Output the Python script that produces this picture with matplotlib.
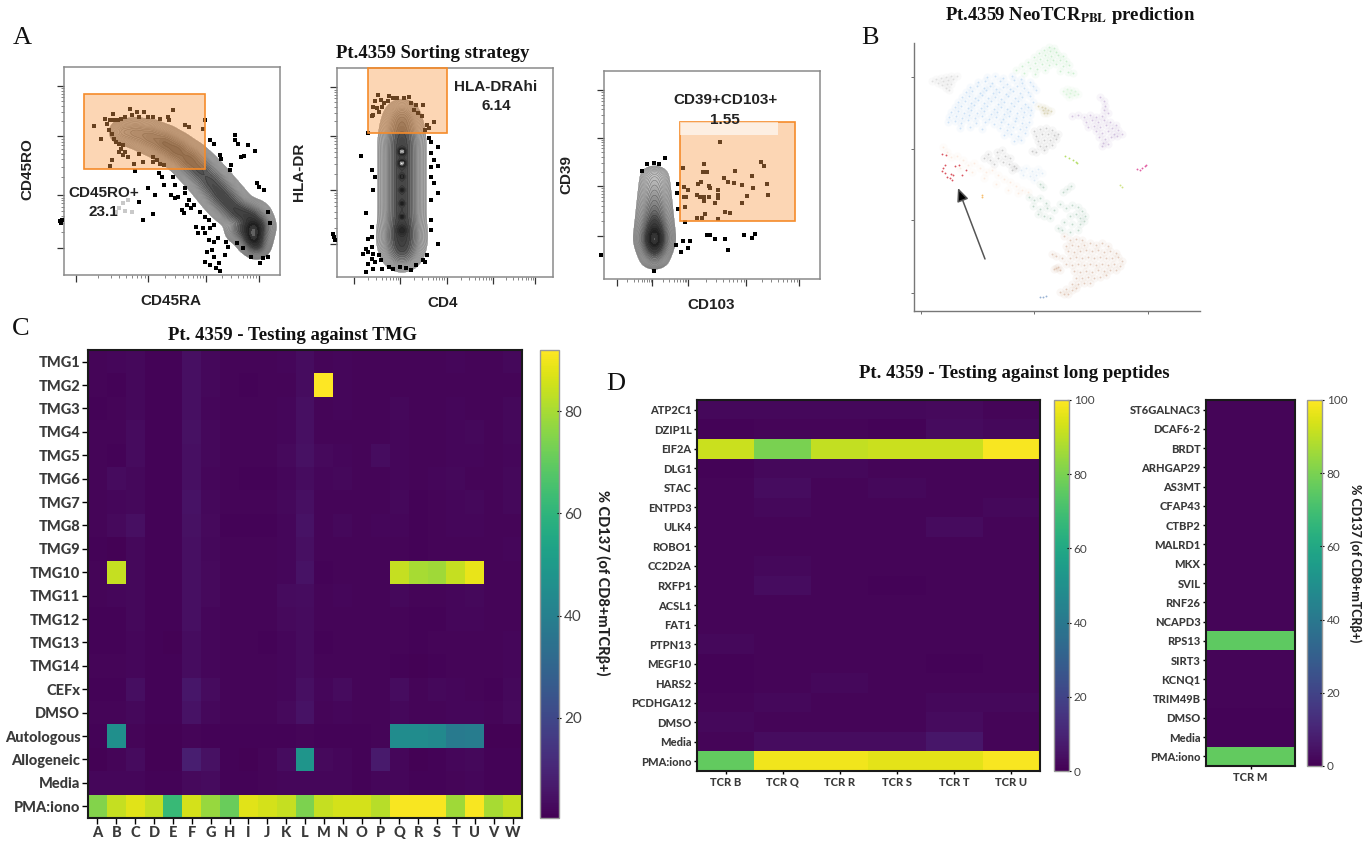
import numpy as np
import matplotlib
matplotlib.use("Agg")
import matplotlib.pyplot as plt
from matplotlib.patches import Rectangle
from matplotlib.colors import LinearSegmentedColormap

W, H = 1365, 844

# ---- C heatmap
tmg_rows = ["TMG1", "TMG2", "TMG3", "TMG4", "TMG5", "TMG6", "TMG7", "TMG8", "TMG9", "TMG10", "TMG11", "TMG12",
            "TMG13", "TMG14", "CEFx", "DMSO", "Autologous", "Allogeneic", "Media", "PMA:iono"]
tmg_cols = list("ABCDEFGHIJKLMNOPQRSTUVW")
tmg_values = [
    [1.5, 2.0, 2.5, 1.2, 1.2, 4.0, 2.2, 1.5, 1.5, 1.5, 2.0, 3.5, 1.5, 2.0, 1.5, 1.8, 1.5, 1.5, 1.5, 2.0, 1.5, 1.5, 2.5],
    [1.5, 1.2, 2.2, 1.2, 1.3, 4.0, 2.2, 1.5, 1.2, 1.5, 1.5, 3.5, 92., 2.0, 1.5, 1.5, 1.5, 1.5, 1.5, 1.5, 1.5, 1.5, 1.8],
    [1.2, 1.5, 2.2, 1.2, 1.2, 4.0, 2.0, 1.5, 1.5, 1.5, 2.0, 4.0, 1.5, 2.0, 1.5, 1.5, 2.5, 1.5, 1.5, 2.0, 1.8, 1.5, 2.5],
    [1.5, 1.5, 3.0, 1.2, 1.3, 4.5, 2.2, 1.5, 1.5, 1.5, 2.0, 4.0, 1.5, 1.5, 1.5, 1.5, 2.0, 1.5, 1.8, 2.0, 2.5, 1.5, 2.5],
    [1.5, 1.3, 3.0, 1.2, 1.3, 4.0, 2.2, 1.5, 1.5, 1.5, 2.8, 4.5, 2.8, 2.0, 1.5, 3.5, 2.0, 1.5, 1.5, 2.0, 2.0, 1.5, 2.0],
    [1.5, 3.0, 2.5, 1.2, 1.3, 4.0, 2.0, 1.5, 1.2, 1.3, 2.0, 3.5, 2.0, 2.5, 1.5, 1.5, 2.0, 1.5, 2.0, 2.5, 1.5, 1.5, 2.5],
    [1.5, 2.0, 2.5, 1.2, 1.3, 5.0, 2.2, 1.5, 1.5, 1.5, 2.5, 4.0, 1.5, 1.5, 1.5, 1.5, 2.5, 1.3, 1.5, 2.0, 2.5, 1.5, 2.5],
    [1.5, 2.8, 4.0, 1.2, 1.3, 4.5, 2.8, 1.3, 1.2, 1.3, 2.0, 4.8, 1.5, 2.5, 1.5, 2.0, 2.0, 1.3, 1.5, 2.0, 2.0, 1.5, 1.5],
    [1.3, 1.0, 2.5, 1.2, 1.3, 4.0, 2.2, 1.5, 1.5, 1.5, 2.0, 4.0, 1.5, 1.5, 1.5, 1.5, 1.5, 1.3, 1.5, 1.5, 1.5, 1.5, 2.0],
    [1.5, 84., 2.2, 1.2, 1.3, 4.0, 2.8, 1.5, 1.5, 1.5, 2.0, 4.8, 1.3, 1.5, 1.5, 1.5, 84., 80., 79., 84., 89., 1.5, 1.5],
    [1.5, 2.0, 2.5, 1.2, 1.3, 4.0, 2.8, 1.5, 1.5, 1.5, 3.0, 3.5, 1.5, 2.0, 1.5, 1.5, 2.5, 1.5, 1.5, 2.0, 2.5, 1.5, 1.5],
    [1.3, 1.3, 2.2, 1.2, 1.3, 4.0, 2.0, 1.5, 1.5, 1.5, 2.8, 3.2, 1.5, 1.5, 1.5, 1.5, 1.5, 1.3, 1.3, 2.0, 2.0, 1.5, 1.5],
    [1.3, 1.3, 2.0, 1.2, 0.9, 3.5, 2.0, 1.5, 1.5, 1.3, 2.0, 3.2, 1.3, 1.5, 1.5, 1.5, 1.5, 1.3, 1.5, 1.5, 1.5, 1.5, 2.0],
    [1.5, 1.5, 2.0, 1.3, 1.3, 3.5, 2.0, 1.5, 1.5, 1.5, 2.0, 3.2, 1.5, 1.5, 1.5, 1.5, 1.2, 1.0, 1.3, 1.5, 1.5, 1.5, 2.0],
    [1.2, 1.3, 3.8, 1.3, 1.3, 6.0, 3.0, 1.5, 1.5, 1.5, 2.0, 4.0, 2.0, 3.0, 1.5, 1.5, 3.5, 1.5, 2.2, 2.0, 1.5, 1.2, 2.5],
    [1.5, 1.5, 2.5, 1.3, 1.3, 5.0, 2.2, 1.5, 1.5, 1.5, 2.8, 4.8, 1.5, 2.0, 1.5, 1.5, 2.5, 1.5, 1.5, 2.0, 2.0, 1.5, 2.8],
    [1.3, 46., 1.5, 1.0, 1.0, 1.5, 1.3, 1.3, 1.3, 1.3, 1.3, 1.5, 1.3, 1.3, 1.3, 1.5, 45., 45., 44., 38., 39., 1.0, 1.0],
    [1.0, 1.5, 3.0, 1.0, 1.0, 8.0, 4.5, 1.3, 1.0, 1.5, 3.5, 48., 2.8, 2.0, 1.3, 7.0, 2.0, 1.0, 1.3, 2.0, 2.5, 1.3, 1.3],
    [2.0, 2.0, 2.0, 1.3, 1.3, 2.8, 3.2, 1.3, 1.3, 1.5, 2.0, 2.0, 2.0, 2.0, 1.3, 2.0, 2.0, 1.3, 1.3, 1.5, 2.0, 1.3, 1.3],
    [75., 84., 88., 84., 62., 86., 78., 71., 88., 86., 84., 74., 84., 86., 86., 82., 91., 91., 91., 79., 91., 80., 84.],
]

# ---- D heatmaps
pep_rows = ["ATP2C1", "DZIP1L", "EIF2A", "DLG1", "STAC", "ENTPD3", "ULK4", "ROBO1", "CC2D2A", "RXFP1", "ACSL1",
            "FAT1", "PTPN13", "MEGF10", "HARS2", "PCDHGA12", "DMSO", "Media", "PMA:iono"]
pep_cols = ["TCR B", "TCR Q", "TCR R", "TCR S", "TCR T", "TCR U"]
pep_values = [
    [2.2, 2.0, 2.0, 2.0, 2.5, 1.5],
    [1.0, 1.5, 1.5, 0.8, 3.0, 2.0],
    [92., 80., 91., 92., 92., 99.],
    [1.0, 2.2, 2.2, 1.2, 1.2, 1.5],
    [1.2, 3.5, 1.2, 2.0, 1.5, 1.5],
    [1.2, 2.0, 1.5, 1.5, 1.5, 2.0],
    [1.2, 1.5, 1.5, 1.5, 3.0, 1.2],
    [1.2, 1.5, 1.5, 1.2, 1.2, 1.5],
    [1.2, 2.2, 1.5, 1.2, 1.5, 1.5],
    [1.2, 3.5, 1.5, 1.0, 1.2, 1.2],
    [1.5, 1.2, 1.2, 1.5, 1.2, 1.2],
    [1.2, 1.5, 1.5, 1.5, 1.2, 1.2],
    [2.2, 1.5, 1.5, 1.5, 1.2, 1.2],
    [0.8, 1.5, 1.2, 1.5, 1.0, 1.5],
    [0.8, 1.5, 2.0, 1.2, 1.5, 1.5],
    [1.2, 2.0, 1.5, 1.2, 2.2, 2.0],
    [2.0, 1.5, 1.5, 1.2, 3.0, 1.5],
    [1.5, 3.5, 3.2, 3.2, 6.0, 1.5],
    [76., 98., 98., 96., 96., 99.],
]
single_rows = ["ST6GALNAC3", "DCAF6-2", "BRDT", "ARHGAP29", "AS3MT", "CFAP43", "CTBP2", "MALRD1", "MKX", "SVIL",
               "RNF26", "NCAPD3", "RPS13", "SIRT3", "KCNQ1", "TRIM49B", "DMSO", "Media", "PMA:iono"]
single_cols = ["TCR M"]
single_values = [[1.5], [1.5], [1.5], [1.5], [1.5], [1.5], [1.5], [1.2], [1.2], [1.2], [1.2], [1.2], [75.],
                 [1.5], [1.5], [1.5], [1.0], [0.8], [76.]]

# ---- flow dots, read in channel units of each plot
cd45_dots = [(265,318),(283,355),(295,295),(300,310),(310,300),(318,280),(320,300),(330,298),(340,295),(350,290),
             (365,265),(370,285),(385,275),(390,290),(405,275),(415,290),(430,290),(450,295),(470,290),(485,270),
             (475,300),(520,315),(530,320),(575,300),(570,325),(305,330),(315,340),(320,355),(325,365),(335,370),
             (345,375),(340,385),(335,395),(350,395),(345,405),(390,400),(360,410),(315,418),(310,438),(375,432),
             (400,425),(430,410),(440,420),(430,425),(450,430),(460,435),(378,452),(445,460),(455,470),(485,470),
             (460,495),(415,505),(435,525),(490,495),(520,505),(520,520),(480,525),(490,535),(500,530),(530,540),
             (525,555),(535,565),(510,570),(515,580),(545,555),(400,600),(430,583),(390,545),(600,370),(590,360),
             (660,345),(660,360),(668,372),(695,375),(715,393),(618,405),(620,415),(675,410),(685,407),(648,435),
             (645,450),(720,490),(725,500),(740,510),(750,575),(758,610),(560,575),(575,590),(585,600),(600,615),
             (590,625),(550,620),(570,625),(575,640),(555,640),(585,660),(600,665),(610,655),(635,665),(640,680),
             (665,670),(680,683),(595,690),(580,695),(600,710),(630,705),(575,725),(590,735),(615,730),(605,745),
             (618,752),(705,712),(730,728),(750,710),(738,715),(168,603),(175,600),(172,610)]
cd45_pale = [(345,550),(360,540),(335,565),(350,572),(370,575),(325,575)]
hla_dots = [(1058,225),(1090,228),(1110,235),(1130,235),(1145,232),(1050,245),(1065,240),(1075,250),(1085,245),
            (1100,235),(1150,250),(1165,255),(1185,255),(1045,262),(1055,265),(1070,262),(1160,270),(1170,280),
            (1045,285),(1060,278),(1180,290),(1215,305),(1195,315),(1190,330),(1200,325),(1040,290),(1030,340),
            (1010,407),(1200,355),(1205,365),(1225,380),(1205,400),(1215,420),(1205,440),(1225,438),(1040,450),
            (1050,470),(1045,510),(1205,470),(1215,490),(1225,520),(1205,540),(1025,580),(1040,620),(1205,600),
            (1205,630),(1040,650),(1030,655),(1225,670),(1025,685),(1040,680),(1015,700),(1030,695),(1045,700),
            (1060,705),(1040,715),(1050,725),(1065,720),(1030,730),(1045,745),(1025,755),(1070,745),(1090,740),
            (1100,745),(1120,740),(1135,742),(1150,750),(1165,735),(1185,720),(1195,705),(1190,725),(935,650),
            (932,640),(938,660)]
cd39_dots = [(258,473),(218,492),(233,488),(245,490),(208,512),(382,425),(345,490),(299,504),(343,516),(352,516),
             (415,512),(473,485),(479,497),(390,533),(452,528),(288,552),(338,545),(332,553),(400,546),(412,548),
             (431,555),(487,552),(302,560),(310,570),(357,558),(360,563),(378,570),(456,565),(285,580),(300,590),
             (305,590),(330,585),(337,590),(345,592),(357,590),(378,585),(376,593),(441,587),(489,585),(345,603),
             (370,610),(430,608),(288,628),(303,620),(393,635),(403,640),(348,643),(330,655),(342,655),(378,656),
             (303,665),(352,706),(358,704),(434,704),(460,702),(454,714),(370,718),(392,718),(298,722),(314,722),
             (283,735),(309,743),(294,755),(400,750),(233,812),(115,765)]

# contour ridges: x, y, spread, weight
cd45_ridge = [(345,335,16,0.6),(380,338,18,0.9),(420,350,20,1.2),(460,368,20,1.5),(495,390,20,1.6),(530,418,21,1.6),
              (560,450,22,1.5),(590,485,22,1.5),(615,518,22,1.5),(640,548,22,1.5),(665,575,20,1.5),(690,585,18,1.0),
              (712,590,20,1.0),(705,625,20,2.6),(712,655,18,3.0),(725,620,18,1.2),(720,680,14,1.2),(670,630,16,0.8)]
hla_ridge = [(1125,285,20,0.5),(1125,310,22,0.7),(1125,340,24,0.9),(1125,370,24,1.0),(1125,400,24,1.0),(1125,430,24,1.0),
             (1125,460,24,1.0),(1125,490,24,1.0),(1125,520,24,1.0),(1125,550,24,1.0),(1125,580,24,1.0),(1125,610,24,1.0),
             (1125,640,25,1.2),(1125,670,25,1.2),(1125,700,22,0.8),(1125,395,6,3.0),(1125,430,6,3.0),(1125,470,4,2.0),
             (1125,510,4,1.6),(1125,550,4,1.6),(1125,590,4,1.6),(1125,630,10,1.0)]
cd39_ridge = [(235,527,15,0.25),(235,552,15,0.35),(235,577,15,0.5),(235,602,15,0.7),(235,627,15,1.0),(235,652,15,1.4),
              (235,677,15,2.2),(235,702,15,3.2),(235,725,15,3.6),(235,750,14,2.0),(235,775,13,0.8)]

# ---- B umap clusters, one list per colour
umap_blue = [(987,77),(995,76),(1003,78),(1012,76),(1021,79),(978,82),(985,81),(992,83),(1000,81),(1007,84),(1014,80),
             (1022,83),(1030,82),(970,87),(977,86),(984,88),(990,86),(996,89),(1003,87),(1010,89),(1017,86),(1024,88),
             (1033,86),(966,92),(972,91),(980,93),(986,90),(993,93),(999,92),(1006,94),(1013,91),(1020,93),(1028,92),
             (1036,90),(962,97),(969,96),(975,98),(982,95),(988,98),(995,97),(1001,99),(1008,96),(1015,98),(1022,97),
             (1030,96),(958,102),(965,101),(971,103),(978,100),(984,103),(991,101),(998,104),(1004,102),(1011,103),
             (1018,101),(1025,104),(1033,102),(955,107),(961,106),(968,108),(974,105),(981,108),(987,106),(994,109),
             (1001,107),(1007,109),(1014,106),(1021,108),(1028,107),(951,112),(958,111),(964,113),(971,110),(977,113),
             (984,111),(991,114),(997,112),(1004,114),(1010,111),(1017,113),(1024,112),(1031,110),(949,117),(956,116),
             (962,118),(969,115),(975,118),(982,116),(989,119),(996,117),(1003,119),(1009,116),(1016,118),(1023,117),
             (1030,115),(948,122),(955,121),(961,123),(968,120),(976,123),(985,122),(994,124),(1001,122),(1008,124),
             (1015,121),(1022,123),(1029,122),(960,128),(970,127),(982,129),(1000,128),(1007,130),(1013,127),(1020,129),
             (1026,127),(1004,135),(1011,134),(1018,136),(1025,133),(1014,141),(1021,140)]
umap_green = [(1049,47),(1054,48),(1044,50),(1050,51),(1056,52),(1039,53),(1045,55),(1051,56),(1058,55),(1063,56),
              (1034,57),(1040,59),(1047,60),(1053,60),(1060,60),(1066,61),(1028,62),(1035,63),(1042,64),(1049,65),
              (1056,64),(1063,66),(1069,65),(1022,66),(1030,68),(1037,69),(1045,70),(1060,71),(1068,72),(1073,73),
              (1016,70),(1024,73),(1035,74)]
umap_lightgreen = [(1063,91),(1067,89),(1071,90),(1075,91),(1066,94),(1070,93),(1074,95),(1078,94),(1069,97)]
umap_gray = [(932,81),(936,79),(941,78),(946,77),(951,76),(957,76),(938,83),(943,81),(948,80),(953,79),(942,85),
             (947,84),(951,84),(946,88),(949,90)]
umap_olive = [(1038,106),(1042,107),(1045,108),(1048,110),(1051,111),(1043,110),(1047,113),(1044,113)]
umap_purple = [(1100,97),(1104,101),(1105,106),(1104,110),(1072,116),(1078,115),(1084,117),(1090,115),(1096,117),
               (1102,116),(1108,113),(1086,122),(1092,120),(1098,122),(1104,120),(1110,122),(1116,125),(1088,127),
               (1094,126),(1100,127),(1106,125),(1112,128),(1118,130),(1122,134),(1096,131),(1102,133),(1108,131),
               (1114,134),(1099,137),(1105,139),(1111,137),(1117,136),(1103,143),(1108,144),(1102,146)]
umap_darkgray = [(1034,131),(1040,129),(1046,128),(1052,130),(1036,136),(1042,134),(1048,134),(1054,135),(1058,134),
                 (1038,141),(1044,140),(1050,140),(1056,139),(1040,146),(1046,146),(1052,145),(1032,151),(1036,152),
                 (1044,150),(988,154),(984,158),(990,160),(997,152),(1002,150),(1005,156),(1010,158),(1003,162),
                 (1009,164),(1014,166),(1012,170),(1016,168),(998,158),(994,164)]
umap_peach = [(943,147),(947,152),(951,157),(957,156),(963,160),(968,165),(974,163),(980,168),(986,172),(992,170),
              (998,175),(1004,179),(1010,182),(1016,186),(1022,190),(1028,192),(972,172),(984,178),(960,168),(996,184),
              (1008,190),(1018,193)]
umap_red = [(942,154),(946,155),(945,165),(943,168),(942,171),(945,173),(955,166),(959,165),(966,170),(962,175),
            (953,175),(947,177),(950,178),(952,180),(951,174)]
umap_paleblue = [(1021,170),(1026,168),(1032,171),(1038,169),(1023,175),(1030,176),(1036,175),(1042,173),(1034,180)]
umap_lime = [(1065,156),(1069,158),(1073,160),(1076,162),(1077,163)]
umap_magenta = [(1137,169),(1140,170),(1142,168),(1145,166),(1146,165)]
umap_yellowgreen = [(1120,185),(1122,187)]
umap_orange = [(982,195),(982,197)]
umap_darkgreen = [(1040,184),(1043,187),(1071,186),(1067,189),(1063,192),(1029,197),(1034,200),(1040,198),(1046,203),
                  (1033,206),(1040,209),(1047,208),(1054,210),(1038,214),(1044,216),(1050,218),(1060,204),(1066,208),
                  (1072,205),(1078,207),(1082,211),(1085,216),(1080,218),(1076,214),(1070,216),(1064,222),(1072,224),
                  (1080,224),(1084,221),(1062,230),(1070,232),(1078,230),(1058,228)]
umap_brown = [(1064,236),(1070,240),(1076,239),(1082,240),(1066,246),(1072,245),(1078,246),(1084,245),(1090,243),
              (1096,245),(1102,243),(1108,246),(1052,254),(1056,256),(1068,251),(1074,252),(1080,251),(1086,250),
              (1092,251),(1098,250),(1104,252),(1110,251),(1116,253),(1062,258),(1070,258),(1076,257),(1082,258),
              (1088,257),(1094,258),(1100,257),(1106,258),(1112,258),(1118,257),(1122,261),(1056,268),(1060,270),
              (1066,264),(1072,265),(1078,264),(1084,265),(1090,264),(1096,265),(1102,264),(1108,265),(1114,264),
              (1120,266),(1054,269),(1058,267),(1074,271),(1080,272),(1086,271),(1092,272),(1098,270),(1104,271),
              (1110,270),(1116,270),(1076,278),(1082,278),(1088,277),(1094,278),(1100,277),(1106,275),(1072,284),
              (1078,284),(1084,283),(1090,283),(1066,289),(1072,290),(1060,292),(1064,294),(1068,294),(1076,288)]
umap_steel = [(1040,297),(1043,297),(1046,296)]

# points, colour, alpha, soft halo yes/no
umap_sets = [(umap_blue, "#8cbdee", 0.4, True), (umap_green, "#a3e3a8", 0.5, True), (umap_lightgreen, "#c2f0c4", 0.5, True),
             (umap_gray, "#c8c8c8", 0.5, True), (umap_olive, "#cfc79f", 0.6, True), (umap_purple, "#b79ccb", 0.55, True),
             (umap_darkgray, "#a7a7a7", 0.55, True), (umap_peach, "#fbdcc8", 0.5, True), (umap_red, "#d6424f", 0.9, False),
             (umap_paleblue, "#c4dcf2", 0.5, True), (umap_lime, "#a6d84a", 0.8, False), (umap_magenta, "#df4e9a", 0.9, False),
             (umap_yellowgreen, "#c3dc6a", 0.8, False), (umap_orange, "#f5b04f", 0.8, False),
             (umap_darkgreen, "#96bda6", 0.55, True), (umap_brown, "#d3ad95", 0.6, True), (umap_steel, "#7f9fc9", 0.8, False)]

serif = "Liberation Serif"
sans = "Liberation Sans"
label_font = "Lato"
plt.rcParams["mathtext.fontset"] = "stix"

fig = plt.figure(figsize=(W / 100, H / 100), dpi=100)
shades = LinearSegmentedColormap.from_list(
    "flow", [(0, "#dcdcdc"), (0.12, "#9a9a9a"), (0.35, "#4a4a4a"), (0.72, "#1c1c1c"), (0.88, "#6c6c6c"), (1, "#f4f4f4")])


def px_axes(left, top, right, bottom):
    return fig.add_axes([left / W, 1 - bottom / H, (right - left) / W, (bottom - top) / H])


def px_text(x, y, s, **kw):
    kw.setdefault("ha", "center")
    kw.setdefault("va", "center")
    fig.text(x / W, 1 - y / H, s, **kw)


def log_minor(major):
    out = []
    for a, b in zip(major[:-1], major[1:]):
        out += [a + np.log10(k) * (b - a) for k in range(2, 10)]
    return out


def flow_panel(box, xlim, ylim, ridge, dots, gate, xmajor, ymajor, top_level):
    ax = px_axes(*box)
    xx, yy = np.meshgrid(np.linspace(xlim[0], xlim[1], 600), np.linspace(ylim[1], ylim[0], 600))
    dens = np.zeros_like(xx)
    for x0, y0, s, w in ridge:
        dens += w * np.exp(-((xx - x0) ** 2 + (yy - y0) ** 2) / (2 * s ** 2))
    levels = np.geomspace(0.035, top_level, 50)
    ax.contourf(xx, yy, dens, levels=levels, cmap=shades, zorder=1, extend="max")
    ax.contour(xx, yy, dens, levels=levels[::2], colors="#202020", linewidths=0.3, alpha=0.55, zorder=2)
    ax.scatter(*zip(*dots), marker="s", s=7, color="black", linewidths=0, zorder=3, clip_on=False)
    ax.add_patch(Rectangle((gate[0], gate[1]), gate[2] - gate[0], gate[3] - gate[1], facecolor=(0.98, 0.62, 0.3, 0.42),
                           edgecolor="#f58b2a", linewidth=1.2, zorder=4, clip_on=False))
    ax.set_xlim(*xlim)
    ax.set_ylim(*ylim)
    ax.set_xticks(xmajor, [""] * len(xmajor))
    ax.set_yticks(ymajor, [""] * len(ymajor))
    ax.set_xticks(log_minor(xmajor), minor=True)
    ax.set_yticks(log_minor(ymajor), minor=True)
    ax.tick_params(which="major", length=5, width=0.9, color="#333333")
    ax.tick_params(which="minor", length=2.5, width=0.5, color="#555555")
    for sp in ax.spines.values():
        sp.set_color("#8a8a8a")
        sp.set_linewidth(1.1)
    return ax


# panel A
ax1 = flow_panel((64, 67, 280, 275), (180, 785), (765, 140), cd45_ridge, cd45_dots, (235, 220, 575, 445),
                 [215, 415, 577, 725], [683, 525, 347, 197], 5.5)
ax1.scatter(*zip(*cd45_pale), marker="s", s=5, color="#c9c9c9", linewidths=0, zorder=3)
ax2 = flow_panel((337, 68, 553, 277), (943, 1548), (770, 145), hla_ridge, hla_dots, (1030, 145, 1252, 338),
                 [990, 1120, 1250, 1380, 1497], [672, 510, 347, 203], 5.0)
ax3 = flow_panel((604, 71, 820, 279), (122, 605), (837, 212), cd39_ridge, cd39_dots, (293, 365, 549, 662),
                 [150, 230, 310, 440, 558], [707, 558, 412, 270], 6.5)
ax3.add_patch(Rectangle((293, 365), 217, 40, facecolor="white", edgecolor="none", alpha=0.62, zorder=5))

axis_style = dict(family=sans, fontweight="bold", fontsize=11, color="#222222")
px_text(27, 169, "CD45RO", rotation=90, **axis_style)
px_text(171, 301, "CD45RA", **axis_style)
px_text(299, 172, "HLA-DR", rotation=90, **axis_style)
px_text(443, 303, "CD4", **axis_style)
px_text(566, 174, "CD39", rotation=90, **axis_style)
px_text(711, 305, "CD103", **axis_style)
gate_style = dict(family=sans, fontweight="bold", fontsize=11, color="#222222", zorder=10)
px_text(104, 193, "CD45RO+", **gate_style)
px_text(103, 212, "23.1", **gate_style)
px_text(496, 87, "HLA-DRAhi", **gate_style)
px_text(496, 106, "6.14", **gate_style)
px_text(725, 100, "CD39+CD103+", **gate_style)
px_text(725, 120, "1.55", **gate_style)

# panel B
axb = px_axes(914, 43, 1200, 311)
for pts, col, a, halo in umap_sets:
    if halo:
        axb.scatter(*zip(*pts), s=34, color=col, alpha=a * 0.16, linewidths=0)
    axb.scatter(*zip(*pts), s=1.8, color=col, alpha=a, linewidths=0)
axb.annotate("", xy=(958, 188), xytext=(985, 259),
             arrowprops=dict(arrowstyle="-|>,head_width=0.35,head_length=0.8", ec="#555555", fc="black", lw=1.1,
                             shrinkA=0, shrinkB=0))
axb.set_xlim(914, 1200)
axb.set_ylim(311, 43)
axb.set_xticks([920.5, 1034, 1148], ["", "", ""])
axb.set_yticks([77, 149, 220, 293], ["", "", "", ""])
axb.tick_params(length=2, width=0.6, color="#555555")
axb.spines[["top", "right"]].set_visible(False)
axb.spines[["left", "bottom"]].set_color("#777777")
axb.spines[["left", "bottom"]].set_linewidth(1.0)

title_style = dict(family=serif, fontweight="bold", color="#111111")
px_text(433, 53, "Pt.4359 Sorting strategy", fontsize=13.5, **title_style)
px_text(1070, 16, r"Pt.4359 NeoTCR$_{\mathbf{PBL}}$ prediction", fontsize=13.5, **title_style)
px_text(292, 336, "Pt. 4359 - Testing against TMG", fontsize=13.5, **title_style)
px_text(1014, 373, "Pt. 4359 - Testing against long peptides", fontsize=13.5, **title_style)
for letter, x, y in [("A", 22, 38), ("B", 870, 38), ("C", 21, 329), ("D", 616, 384)]:
    px_text(x, y, letter, family=serif, fontsize=19, color="#111111")


def heatmap(box, cbox, values, rows, cols, vmin, vmax, cticks, fs, tick_len):
    ax = px_axes(*box)
    im = ax.imshow(np.array(values), cmap="viridis", vmin=vmin, vmax=vmax, aspect="auto", interpolation="nearest")
    ax.set_xticks(range(len(cols)), cols, family=label_font, fontweight=900, fontsize=fs, color="#3a3a3a")
    ax.set_yticks(range(len(rows)), rows, family=label_font, fontweight=900, fontsize=fs, color="#3a3a3a")
    ax.tick_params(length=tick_len, width=1.0, pad=1.5)
    for sp in ax.spines.values():
        sp.set_linewidth(1.5)
        sp.set_color("#1a1a1a")
    cax = px_axes(*cbox)
    cb = fig.colorbar(im, cax=cax)
    cb.set_ticks(cticks)
    cb.ax.tick_params(length=3, width=0.8, labelsize=fs + 0.5, labelcolor="#444444", pad=2, direction="inout")
    for lab in cb.ax.get_yticklabels():
        lab.set_family(label_font)
    cb.outline.set_edgecolor("#999999")
    cb.outline.set_linewidth(1.0)
    return ax


heatmap((88, 350, 522, 818), (540, 350, 559, 818), tmg_values, tmg_rows, tmg_cols, 0.4, 92, [20, 40, 60, 80], 10.5, 4)
heatmap((697, 400, 1040, 771), (1054, 400, 1069, 771), pep_values, pep_rows, pep_cols, 0, 100,
        [0, 20, 40, 60, 80, 100], 8, 2.5)
heatmap((1206, 400, 1295, 766), (1307, 400, 1322, 766), single_values, single_rows, single_cols, 0, 100,
        [0, 20, 40, 60, 80, 100], 8, 2.5)

px_text(603, 583, "% CD137 (of CD8+mTCRβ+)", rotation=270, family=label_font, fontweight=900, fontsize=10.5,
        color="#222222")
px_text(1355, 563, "% CD137 (of CD8+mTCRβ+)", rotation=270, family=label_font, fontweight=900, fontsize=9,
        color="#222222")

fig.savefig("out.png", dpi=100)
